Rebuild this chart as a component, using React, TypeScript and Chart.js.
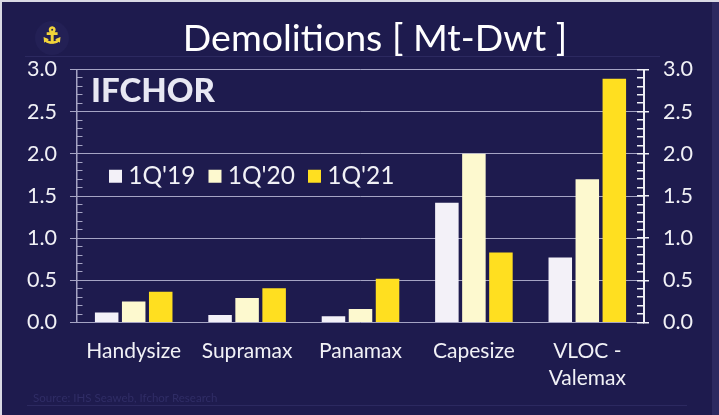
import React, { useEffect, useRef } from "react";
import { Chart, registerables } from "chart.js";

Chart.register(...registerables);

const categories = ["Handysize", "Supramax", "Panamax", "Capesize", ["VLOC -", "Valemax"]];
const q119 = [0.12, 0.09, 0.075, 1.42, 0.77];
const q120 = [0.25, 0.29, 0.16, 2.0, 1.7];
const q121 = [0.365, 0.405, 0.52, 0.83, 2.89];
const seriesNames = ["1Q'19", "1Q'20", "1Q'21"];
const seriesColors = ["#f3f1f8", "#fdf9cf", "#ffdf20"];
const titleText = "Demolitions [ Mt-Dwt ]";
const watermark = "IFCHOR";
const sourceText = "Source: IHS Seaweb, Ifchor Research";
const anchorGlyph = "\u2693";

const FONT = "Lato, sans-serif";
const BG = "#1e1b4e";
const GRID = "#a5a4c4";
const AXIS_RIGHT = "#f0f0f6";
const TEXT = "#f1f1f6";

const decor = {
  id: "decor",
  afterLayout(chart: any) {
    const t = chart.titleBlock;
    t.left = 31;
    t.right = 719;
    const l = chart.legend;
    const pad = l.options.labels.padding;
    l.left = 115 - pad;
    l.right = 480;
    l.top = 164 - pad;
    l.bottom = 195;
  },
  beforeDraw(chart: any) {
    const { ctx, width, height } = chart;
    ctx.save();
    ctx.fillStyle = BG;
    ctx.fillRect(0, 0, width, height);
    ctx.fillStyle = "#d9d9e4";
    ctx.fillRect(0, 0, width, 2);
    ctx.fillRect(0, 0, 2, height);
    ctx.fillStyle = "#2c2960";
    ctx.fillRect(712, 2, 7, height - 2);
    ctx.fillRect(25, 56, 635, 1);
    ctx.fillRect(27, 405, 660, 1);
    ctx.fillStyle = "#302d66";
    ctx.font = `11.5px ${FONT}`;
    ctx.textAlign = "left";
    ctx.textBaseline = "middle";
    ctx.fillText(sourceText, 33, 398);
    ctx.fillStyle = "#232055";
    ctx.beginPath();
    ctx.arc(52, 38, 17, 0, Math.PI * 2);
    ctx.fill();
    ctx.fillStyle = "#f2d43a";
    ctx.strokeStyle = "#f2d43a";
    ctx.lineWidth = 1.2;
    ctx.font = `22px "DejaVu Sans"`;
    ctx.textAlign = "center";
    ctx.fillText(anchorGlyph, 52, 37);
    ctx.strokeText(anchorGlyph, 52, 37);
    ctx.restore();
  },
  afterDraw(chart: any) {
    const { ctx } = chart;
    ctx.save();
    ctx.fillStyle = "#e8e8f3";
    ctx.font = `900 33px ${FONT}`;
    ctx.textAlign = "left";
    ctx.textBaseline = "middle";
    ctx.fillText(watermark, 91, 91);
    ctx.restore();
  },
};

export default function App() {
  const ref = useRef<HTMLCanvasElement | null>(null);
  useEffect(() => {
    if (!ref.current) return;
    const fixedWidth = (w: number) => (s: any) => {
      s.width = w;
    };
    const minorAxis = (position: string, length: number, color: string, lineWidth: number) => ({
      type: "linear",
      position,
      weight: 0,
      min: 0,
      max: 3,
      afterFit: fixedWidth(0.01),
      ticks: { display: false, stepSize: 0.1, autoSkip: false },
      border: { display: false },
      grid: { drawOnChartArea: false, tickLength: length, color, lineWidth },
    });
    const chart = new Chart(ref.current, {
      type: "bar",
      data: {
        labels: categories as any,
        datasets: [q119, q120, q121].map((data, i) => ({
          label: seriesNames[i],
          data,
          backgroundColor: seriesColors[i],
          borderWidth: 0,
          categoryPercentage: 0.715,
          barPercentage: 0.87,
          yAxisID: "y",
        })),
      },
      options: {
        responsive: false,
        animation: false,
        layout: { padding: 0 },
        plugins: {
          tooltip: { enabled: false },
          title: {
            display: true,
            text: titleText,
            color: "#ffffff",
            font: { family: FONT, size: 37.5, weight: "normal", lineHeight: 1.2 },
            padding: { top: 16, bottom: 7.5 },
          },
          legend: {
            display: true,
            position: "top",
            align: "start",
            maxHeight: 1,
            labels: {
              color: TEXT,
              font: { family: FONT, size: 24.5 },
              boxWidth: 1,
              boxHeight: 1,
              padding: 19,
              generateLabels(c: any) {
                return Chart.defaults.plugins.legend.labels.generateLabels(c).map((it: any) => ({
                  ...it,
                  strokeStyle: it.fillStyle,
                  lineWidth: 12,
                }));
              },
            },
          },
        },
        scales: {
          x: {
            afterFit: (s: any) => {
              s.height = 92.5;
            },
            grid: { display: false },
            border: { display: false },
            ticks: {
              color: TEXT,
              padding: 7,
              maxRotation: 0,
              autoSkip: false,
              font: { family: FONT, size: 21, lineHeight: 1.3 },
            },
          },
          y: {
            position: "left",
            weight: 1,
            min: 0,
            max: 3,
            afterFit: fixedWidth(76.99),
            ticks: {
              stepSize: 0.5,
              color: TEXT,
              padding: 13,
              font: { family: FONT, size: 21.5 },
              callback: (v: any) => Number(v).toFixed(1),
            },
            border: { display: true, color: GRID, width: 1.5 },
            grid: { color: GRID, lineWidth: 1, tickLength: 7 },
          },
          yRight: {
            position: "right",
            weight: 1,
            min: 0,
            max: 3,
            afterFit: fixedWidth(74.99),
            ticks: {
              stepSize: 0.5,
              color: TEXT,
              padding: 14,
              font: { family: FONT, size: 21.5 },
              callback: (v: any) => Number(v).toFixed(1),
            },
            border: { display: true, color: AXIS_RIGHT, width: 2 },
            grid: { drawOnChartArea: false, color: AXIS_RIGHT, lineWidth: 1.5, tickLength: 5 },
          },
          yMinorLeft: minorAxis("left", -5.5, GRID, 1),
          yMinorRight: minorAxis("right", -7, AXIS_RIGHT, 1.5),
        },
      } as any,
      plugins: [decor],
    });
    return () => chart.destroy();
  }, []);
  return (
    <div style={{ position: "fixed", left: 0, top: 0, width: 719, height: 415 }}>
      <canvas ref={ref} width={719} height={415} style={{ display: "block" }} />
    </div>
  );
}
